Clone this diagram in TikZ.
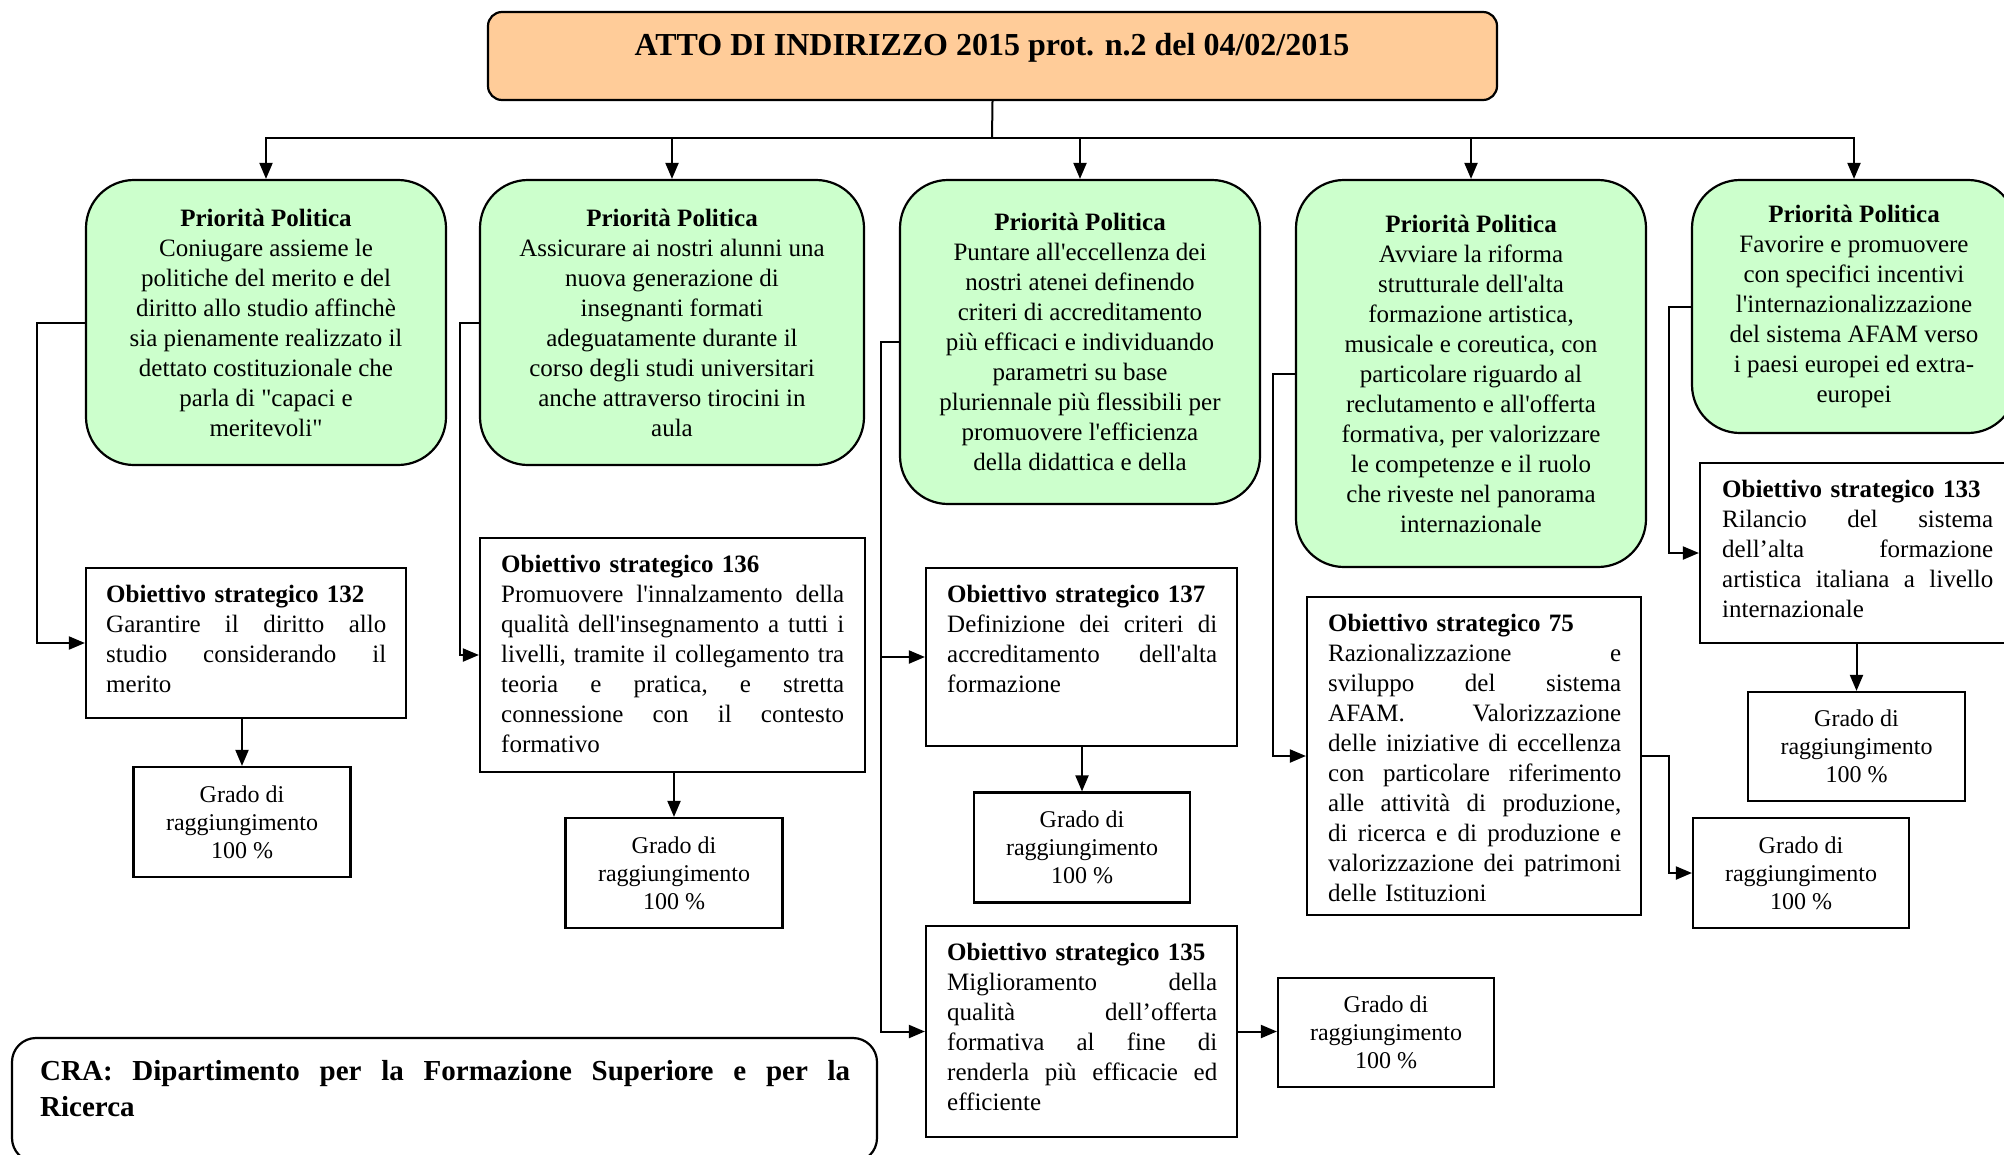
\documentclass[tikz,border=0pt]{standalone}
\usepackage{fontspec}
\setmainfont{Liberation Serif}[Ligatures=TeXOff]
\usetikzlibrary{arrows.meta}
\definecolor{peach}{HTML}{FFCC99}
\definecolor{mint}{HTML}{CCFFCC}
\newcommand\jln[1]{\hbox to\hsize{\frenchspacing\spaceskip=.25em plus 1fil minus .08em\relax #1}}
\newcommand\lln[1]{\hbox to\hsize{#1\hfil}}
\tikzset{
  ppbox/.style={draw, line width=2.2pt, fill=mint, rounded corners=48pt, align=center,
    font=\fontsize{25}{30}\selectfont, inner sep=0pt},
  osbox/.style={draw, line width=2.2pt, fill=white, inner sep=0pt},
  ostext/.style={inner sep=0pt, anchor=north west, font=\fontsize{25}{30}\selectfont},
  gbox/.style={draw, line width=2.2pt, fill=white, align=center, inner sep=0pt,
    font=\fontsize{24}{28}\selectfont},
  arr/.style={line width=2pt, -{Triangle[length=16pt,width=13pt]}},
  ln/.style={line width=2pt}
}
\begin{document}
\begin{tikzpicture}[x=1pt,y=-1pt]
\useasboundingbox (0,0) rectangle (2004,1154);

% title
\node[draw, line width=2.2pt, fill=peach, rounded corners=14pt, minimum width=1009pt,
  minimum height=88pt, inner sep=0pt] (top) at (992.5,56) {};
\node[anchor=base, inner sep=0pt, font=\fontsize{32}{38}\selectfont\bfseries] (toptext)
  at (992,55) {ATTO DI INDIRIZZO 2015 prot. n.2 del 04/02/2015};

% priorities
\node[ppbox, minimum width=360pt, minimum height=285pt] (pp1) at (266,322.5)
 {\textbf{Priorità Politica}\\Coniugare assieme le\\politiche del merito e del\\diritto allo studio affinchè\\sia pienamente realizzato il\\dettato costituzionale che\\parla di "capaci e\\meritevoli"};
\node[ppbox, minimum width=384pt, minimum height=285pt] (pp2) at (672,322.5)
 {\textbf{Priorità Politica}\\Assicurare ai nostri alunni una\\nuova generazione di\\insegnanti formati\\adeguatamente durante il\\corso degli studi universitari\\anche attraverso tirocini in\\aula};
\node[ppbox, minimum width=360pt, minimum height=324pt] (pp3) at (1080,342)
 {\textbf{Priorità Politica}\\Puntare all'eccellenza dei\\nostri atenei definendo\\criteri di accreditamento\\più efficaci e individuando\\parametri su base\\pluriennale più flessibili per\\promuovere l'efficienza\\della didattica e della};
\node[ppbox, minimum width=350pt, minimum height=387pt] (pp4) at (1471,373.5)
 {\textbf{Priorità Politica}\\Avviare la riforma\\strutturale dell'alta\\formazione artistica,\\musicale e coreutica, con\\particolare riguardo al\\reclutamento e all'offerta\\formativa, per valorizzare\\le competenze e il ruolo\\che riveste nel panorama\\internazionale};
\node[ppbox, minimum width=324pt, minimum height=253pt] (pp5) at (1854,306.5)
 {\textbf{Priorità Politica}\\Favorire e promuovere\\con specifici incentivi\\l'internazionalizzazione\\del sistema AFAM verso\\i paesi europei ed extra-\\europei};

% objectives (boxes)
\node[osbox, minimum width=320pt, minimum height=150pt] (os132) at (246,643) {};
\node[osbox, minimum width=385pt, minimum height=234pt] (os136) at (672.5,655) {};
\node[osbox, minimum width=311pt, minimum height=178pt] (os137) at (1081.5,657) {};
\node[osbox, minimum width=311pt, minimum height=211pt] (os135) at (1081.5,1031.5) {};
\node[osbox, minimum width=334pt, minimum height=318pt] (os75) at (1474,756) {};
\node[osbox, minimum width=305pt, minimum height=180pt] (os133) at (1852.5,553) {};

% objectives (texts)
\node[ostext, text width=280pt] (os132t) at (106,585) {%
\lln{\textbf{Obiettivo strategico 132}}
\jln{Garantire il diritto allo}
\jln{studio considerando il}
\lln{merito}};
\node[ostext, text width=343pt] (os136t) at (501,555) {%
\lln{\textbf{Obiettivo strategico 136}}
\jln{Promuovere l'innalzamento della}
\jln{qualità dell'insegnamento a tutti i}
\jln{livelli, tramite il collegamento tra}
\jln{teoria e pratica, e stretta}
\jln{connessione con il contesto}
\lln{formativo}};
\node[ostext, text width=270pt] (os137t) at (947,585) {%
\lln{\textbf{Obiettivo strategico 137}}
\jln{Definizione dei criteri di}
\jln{accreditamento dell'alta}
\lln{formazione}};
\node[ostext, text width=270pt] (os135t) at (947,943) {%
\lln{\textbf{Obiettivo strategico 135}}
\jln{Miglioramento della}
\jln{qualità dell’offerta}
\jln{formativa al fine di}
\jln{renderla più efficacie ed}
\lln{efficiente}};
\node[ostext, text width=293pt] (os75t) at (1328,614) {%
\lln{\textbf{Obiettivo strategico 75}}
\jln{Razionalizzazione e}
\jln{sviluppo del sistema}
\jln{AFAM. Valorizzazione}
\jln{delle iniziative di eccellenza}
\jln{con particolare riferimento}
\jln{alle attività di produzione,}
\jln{di ricerca e di produzione e}
\jln{valorizzazione dei patrimoni}
\lln{delle Istituzioni}};
\node[ostext, text width=271pt] (os133t) at (1722,480) {%
\lln{\textbf{Obiettivo strategico 133}}
\jln{Rilancio del sistema}
\jln{dell’alta formazione}
\jln{artistica italiana a livello}
\lln{internazionale}};

% grado boxes
\node[gbox, minimum width=217pt, minimum height=110pt] (g132) at (242,822) {Grado di\\raggiungimento\\100 \%};
\node[gbox, minimum width=217pt, minimum height=110pt] (g136) at (674,873) {Grado di\\raggiungimento\\100 \%};
\node[gbox, minimum width=216pt, minimum height=110pt] (g137) at (1082,847.5) {Grado di\\raggiungimento\\100 \%};
\node[gbox, minimum width=216pt, minimum height=109pt] (g135) at (1386,1032.5) {Grado di\\raggiungimento\\100 \%};
\node[gbox, minimum width=216pt, minimum height=110pt] (g75) at (1801,873) {Grado di\\raggiungimento\\100 \%};
\node[gbox, minimum width=217pt, minimum height=109pt] (g133) at (1856.5,746.5) {Grado di\\raggiungimento\\100 \%};

% CRA
\node[draw, line width=2.2pt, rounded corners=24pt, minimum width=865pt, minimum height=124pt,
  inner sep=0pt] (cra) at (444.5,1100) {};
\node[inner sep=0pt, anchor=north west, text width=810pt, font=\fontsize{29}{36}\selectfont\bfseries]
  (crat) at (40,1060) {%
\jln{CRA: Dipartimento per la Formazione Superiore e per la}
\lln{Ricerca}};

% connectors
\coordinate (bus) at (992,138);
\draw[ln] (top.south) -- (bus);
\draw[arr] (bus) -| (pp1.north);
\draw[arr] (bus) -| (pp5.north);
\draw[arr] (pp2.north |- bus) -- (pp2.north);
\draw[arr] (pp3.north |- bus) -- (pp3.north);
\draw[arr] (pp4.north |- bus) -- (pp4.north);

\draw[arr] (pp1.west) -- ++(-48,0) |- (os132.west);
\draw[arr] (pp2.west) -- ++(-19,0) |- (os136.west);
\draw[arr] (pp3.west) -- ++(-18,0) |- (os137.west);
\draw[arr] (pp3.west) -- ++(-18,0) |- (os135.west);
\draw[arr] (pp4.west) -- ++(-22,0) |- (os75.west);
\draw[arr] (pp5.west) -- ++(-22,0) |- (os133.west);

\draw[arr] (g132.north |- os132.south) -- (g132.north);
\draw[arr] (g136.north |- os136.south) -- (g136.north);
\draw[arr] (g137.north |- os137.south) -- (g137.north);
\draw[arr] (g133.north |- os133.south) -- (g133.north);
\draw[arr] (os135.east) -- (os135.east -| g135.west);
\draw[arr] (os75.east) -- ++(27,0) |- (g75.west);
\end{tikzpicture}
\end{document}
